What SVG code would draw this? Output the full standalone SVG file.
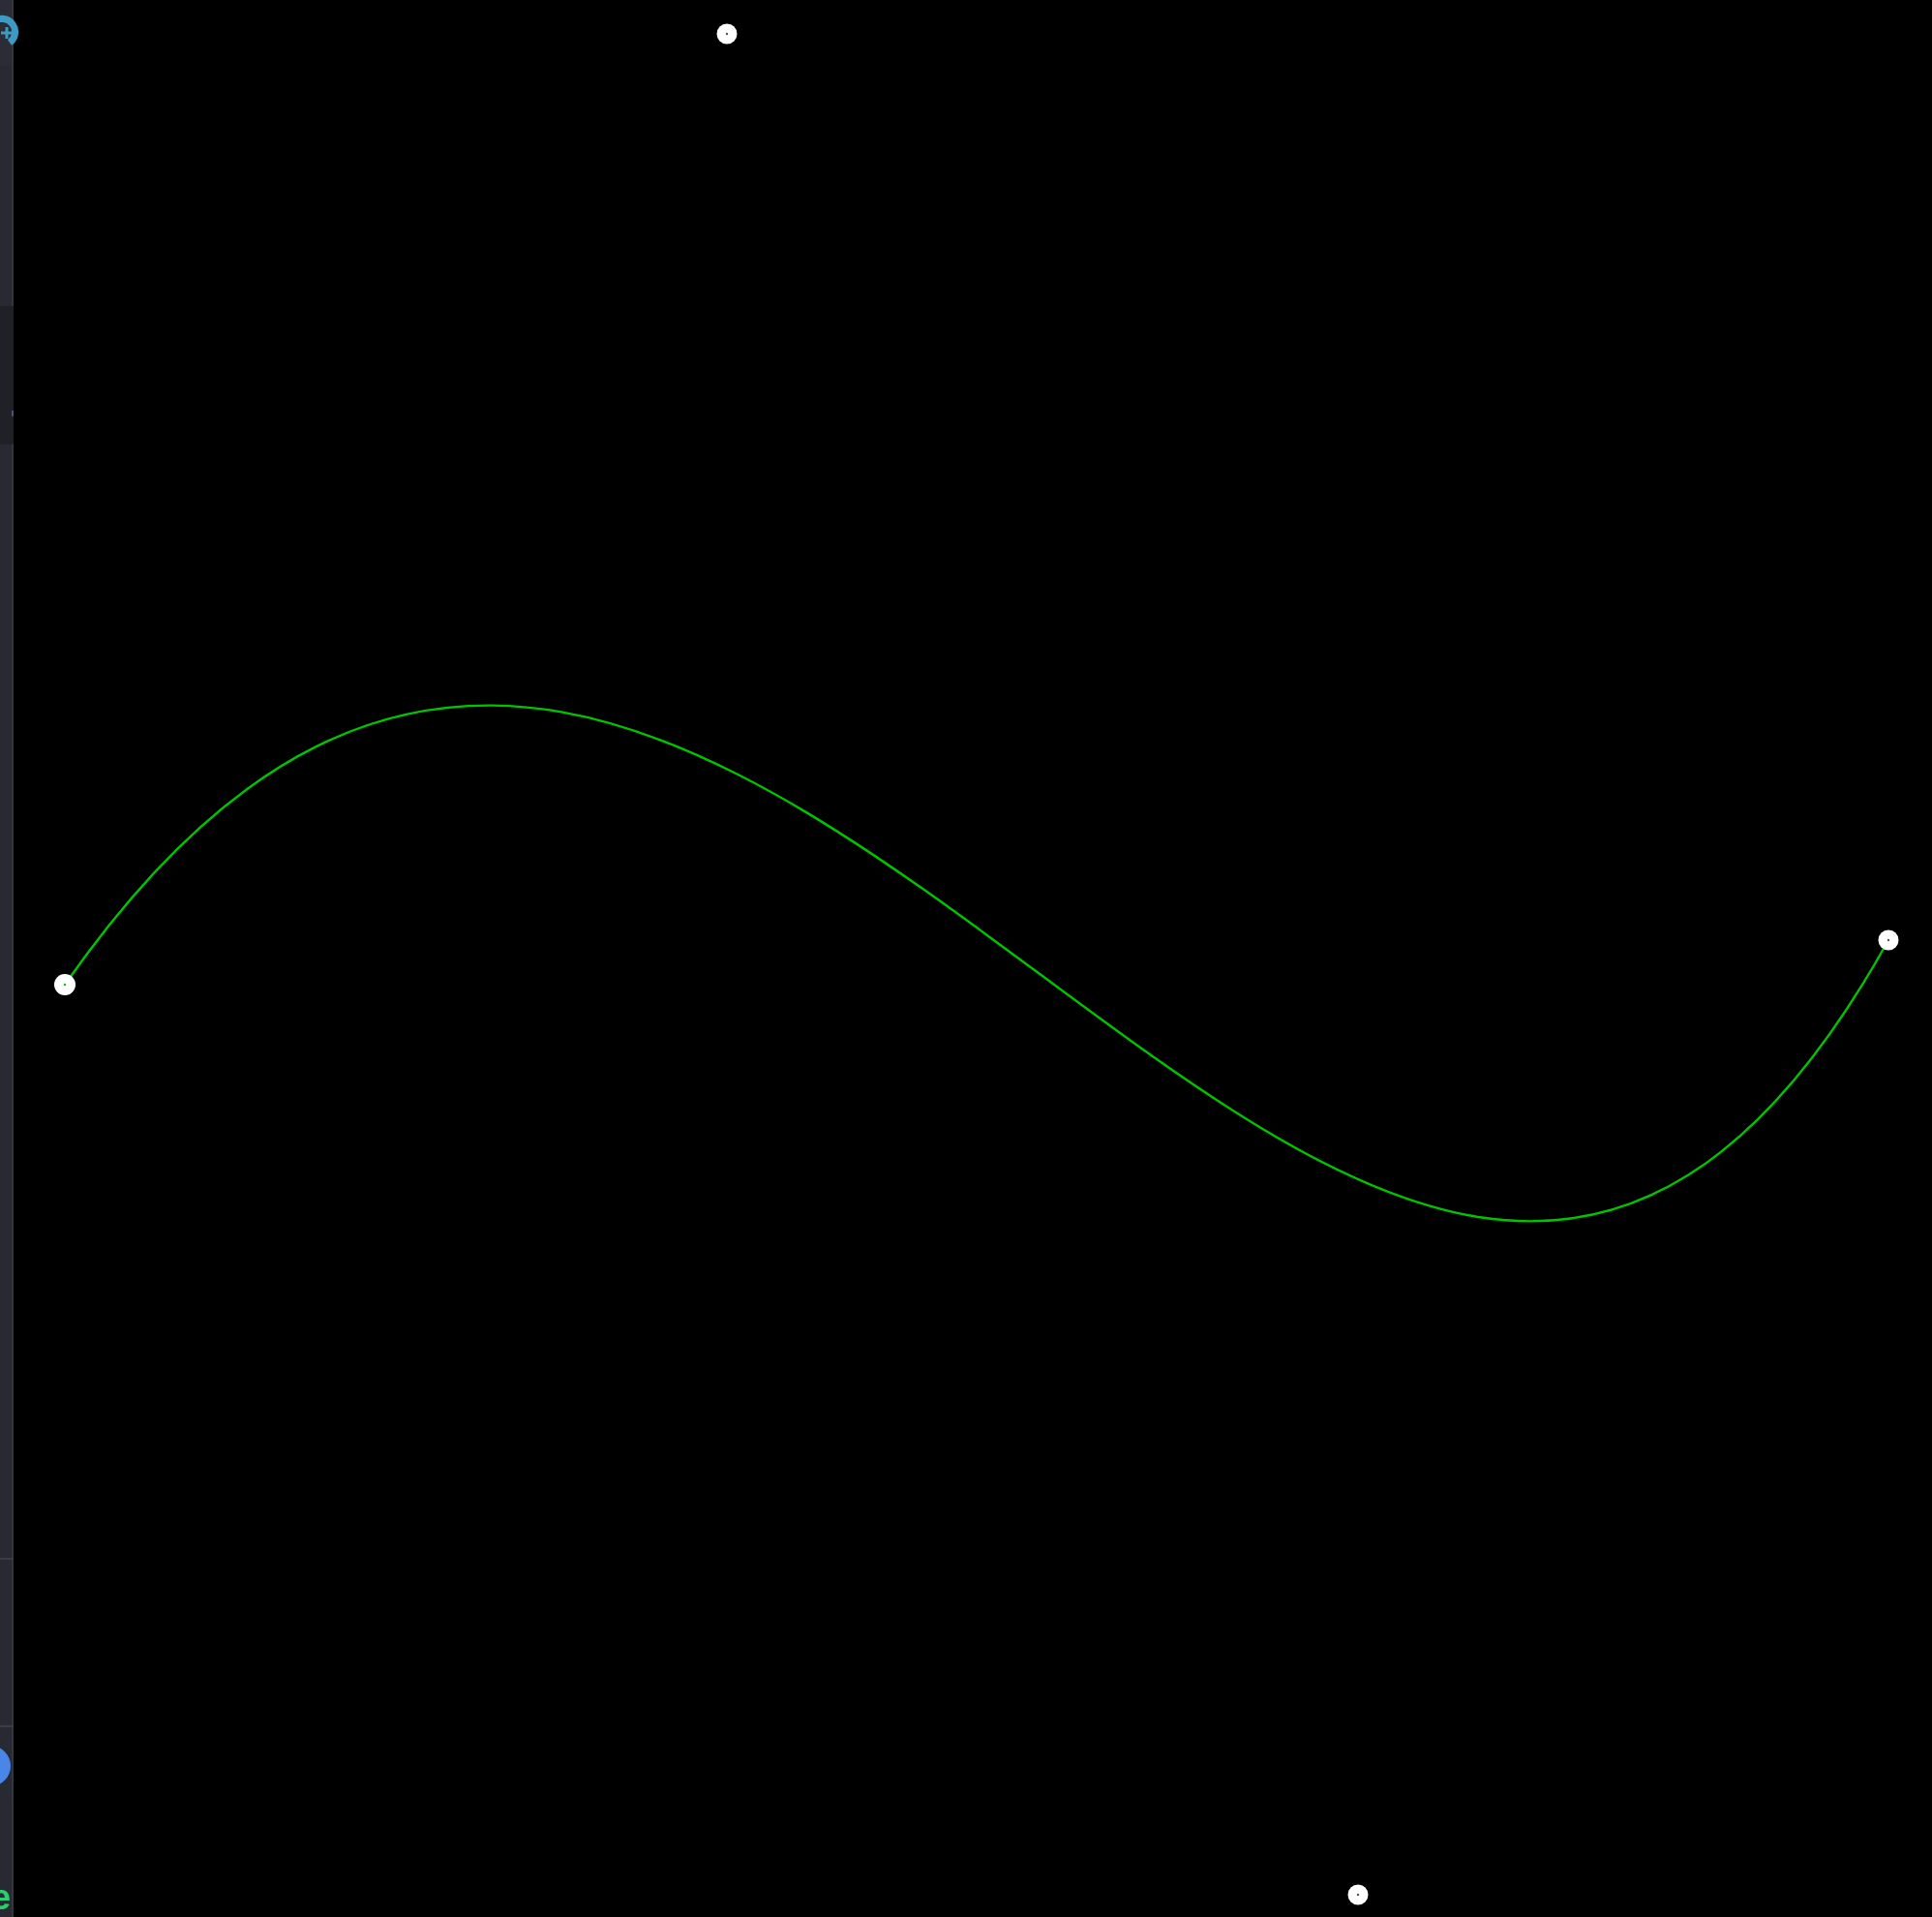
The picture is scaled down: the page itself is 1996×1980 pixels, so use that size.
<svg xmlns="http://www.w3.org/2000/svg" width="1996" height="1980" viewBox="0 0 1996 1980">
  <defs>
    <style>
      .pt { fill: #ffffff; }
      .pc { fill: #555555; }
      .curve { fill: none; stroke: #00c400; stroke-width: 2.4; }
      .side { fill: #272a33; }
    </style>
  </defs>
  <rect x="0" y="0" width="1996" height="1980" fill="#000000"/>
  <g id="sidebar">
    <rect class="side" x="0" y="0" width="14" height="1980"/>
    <rect x="0" y="0" width="14" height="68" fill="#2a2d36"/>
    <rect x="0" y="316" width="14" height="143" fill="#1f2127"/>
    <rect x="12" y="0" width="2" height="1980" fill="#33363f"/>
    <rect x="12" y="316" width="2" height="143" fill="#1f2127"/>
    <rect x="12" y="424" width="2" height="6" fill="#4b4a8a"/>
    <rect x="0" y="1609" width="14" height="2" fill="#3a3d46"/>
    <rect x="0" y="1782" width="14" height="2" fill="#3a3d46"/>
    <path d="M-6,22 A12,12 0 1 1 10,44" fill="none" stroke="#3d9ac2" stroke-width="7"/>
    <path d="M7,28 v12 M1,34 h12" stroke="#3d9ac2" stroke-width="3"/>
    <circle cx="-10" cy="1824" r="21" fill="#4a86e8"/>
    <text x="-9" y="1972" font-family="Liberation Sans, Arial, sans-serif" font-weight="bold" font-size="36" fill="#2ecc71">e</text>
  </g>
  <g id="connectors">
    <path class="curve" d="M67,1017 C751,35 1403,1957 1951,971"/>
  </g>
  <g id="p0"><circle class="pt" cx="67" cy="1017" r="11"/><circle cx="67" cy="1017" r="1.2" fill="#00c400"/></g>
  <g id="p1"><circle class="pt" cx="751" cy="35" r="10.5"/><circle class="pc" cx="751" cy="35" r="1.2"/></g>
  <g id="p2"><circle class="pt" cx="1403" cy="1957" r="10.5"/><circle class="pc" cx="1403" cy="1957" r="1.2"/></g>
  <g id="p3"><circle class="pt" cx="1951" cy="971" r="10.5"/><circle class="pc" cx="1951" cy="971" r="1.2"/></g>
</svg>
